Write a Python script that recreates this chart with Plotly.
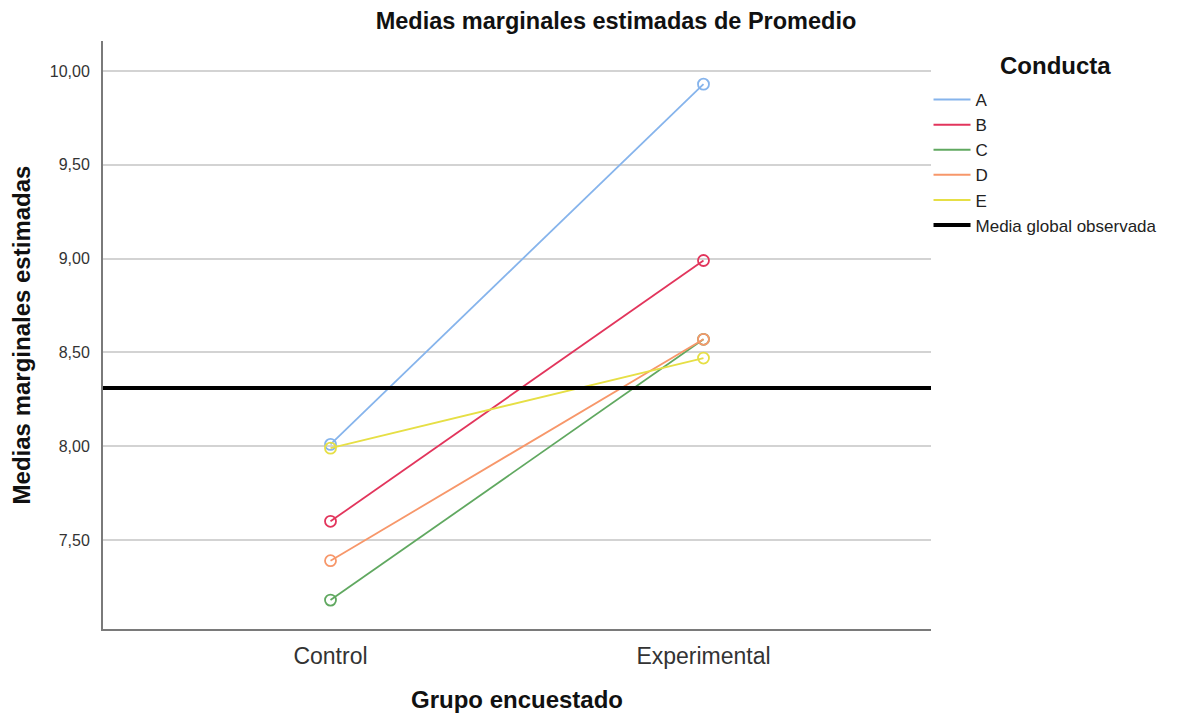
import plotly.graph_objects as go

groups = ["Control", "Experimental"]
conducts = ["A", "B", "C", "D", "E"]
values = {
    "A": [8.01, 9.93],
    "B": [7.60, 8.99],
    "C": [7.18, 8.57],
    "D": [7.39, 8.57],
    "E": [7.99, 8.47],
}
colors = {
    "A": "#86B4EC",
    "B": "#E2355C",
    "C": "#60A860",
    "D": "#F7976A",
    "E": "#E6DF45",
}
global_mean = 8.31
global_label = "Media global observada"
legend_title = "Conducta"
y_ticks = [7.5, 8.0, 8.5, 9.0, 9.5, 10.0]

W, H = 1172, 705
L, T, PW, PH = 95, 33, 828, 588

fig = go.Figure()
for c in conducts:
    fig.add_trace(go.Scatter(
        x=groups, y=values[c], name=c, mode="lines+markers", showlegend=False,
        line=dict(color=colors[c], width=1.8),
        marker=dict(symbol="circle-open", size=11, color=colors[c], line=dict(width=1.8)),
    ))
    # legend-only entry (line without marker, as in the reference)
    fig.add_trace(go.Scatter(
        x=[None], y=[None], name=c, mode="lines",
        line=dict(color=colors[c], width=2),
    ))

fig.add_shape(type="line", xref="paper", x0=0, x1=1, yref="y", y0=global_mean, y1=global_mean,
              line=dict(color="black", width=4), showlegend=True, name=global_label,
              layer="above")

fig.add_annotation(text="<b>" + legend_title + "</b>", xref="paper", yref="paper",
                   x=(1047 - L) / PW, y=1 - (57 - T) / PH, xanchor="center", yanchor="middle",
                   showarrow=False, font=dict(size=24, color="#111"))

fig.update_layout(
    width=W, height=H,
    paper_bgcolor="white", plot_bgcolor="white",
    separators=",.",
    margin=dict(l=L, r=W - L - PW, t=T, b=H - T - PH, autoexpand=False),
    font=dict(family="Liberation Sans, Arial, sans-serif", color="#222"),
    title=dict(text="<b>Medias marginales estimadas de Promedio</b>", x=608 / W, xanchor="center",
               y=1 - 13 / H, yanchor="middle", font=dict(size=23.5, color="#111")),
    legend=dict(x=0.997, xanchor="left", y=1 - (74 - T) / PH, yanchor="top",
                font=dict(size=17, color="#222"), itemwidth=37, tracegroupgap=0,
                bgcolor="rgba(0,0,0,0)"),
    xaxis=dict(type="category", range=[-0.61, 1.61], showgrid=False, showline=True,
               linecolor="#7a7a7a", linewidth=2, ticks="", tickfont=dict(size=23, color="#333"),
               ticklabelstandoff=5, automargin=False,
               title=dict(text="<b>Grupo encuestado</b>", font=dict(size=24, color="#111"), standoff=24),
               zeroline=False),
    yaxis=dict(range=[7.026, 10.16], tickvals=y_ticks, tickformat=".2f", showgrid=True,
               gridcolor="#d3d3d3", gridwidth=2, showline=True, linecolor="#7a7a7a", linewidth=2,
               ticks="", tickfont=dict(size=16, color="#333"), ticklabelstandoff=8, automargin=False,
               title=dict(text="<b>Medias marginales estimadas</b>", font=dict(size=24, color="#111"),
                          standoff=13),
               zeroline=False),
)

fig.write_html("out.html")
